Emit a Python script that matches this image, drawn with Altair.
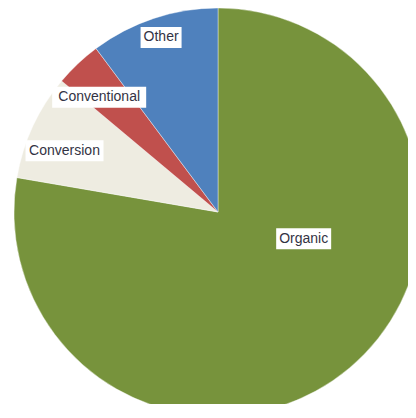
import altair as alt
import pandas as pd

# ---- data ----
categories = ["Organic", "Conversion", "Conventional", "Other"]
shares = [77.7, 8.4, 3.7, 10.2]

# ---- style ----
COLORS = ["#77933C", "#EEECE1", "#C0504D", "#4F81BD"]
# label placement relative to slice middle (angular nudge in degrees, radius fraction)
LABEL_NUDGE = {"Organic": -32.5, "Conversion": -3.1, "Conventional": -2.6, "Other": 0.3}
LABEL_RADIUS = {"Organic": 0.44, "Conversion": 0.81, "Conventional": 0.81, "Other": 0.9}
BOX_W = {"Organic": 55, "Conversion": 78, "Conventional": 94, "Other": 41}
BOX_H = 21
R = 204
CX, CY = 210, 204

df = pd.DataFrame({
    "category": categories,
    "share": shares,
    "idx": list(range(len(categories))),
    "nudge": [LABEL_NUDGE[c] for c in categories],
    "lr": [LABEL_RADIUS[c] for c in categories],
})

paths = []
for c in categories:
    w = BOX_W[c] / 2
    h = BOX_H / 2
    paths.append(f"M{-w},{-h}H{w}V{h}H{-w}Z")

base = alt.Chart(df)

pie = base.mark_arc(outerRadius=R, stroke="white", strokeWidth=0.4).encode(
    theta=alt.Theta("share:Q", stack=True),
    color=alt.Color("category:N", scale=alt.Scale(domain=categories, range=COLORS), legend=None),
    order=alt.Order("idx:Q"),
    x=alt.value(CX),
    y=alt.value(CY),
)

lab = base.transform_joinaggregate(total="sum(share)").transform_window(
    cum="sum(share)", sort=[alt.SortField("idx")], frame=[None, 0]
).transform_calculate(
    mid="(datum.cum - datum.share/2)/datum.total*2*PI + datum.nudge*PI/180"
).transform_calculate(
    lx="datum.lr*sin(datum.mid)", ly="datum.lr*cos(datum.mid)"
)

xenc = alt.X("lx:Q", scale=alt.Scale(domain=[-1, 1], range=[CX - R, CX + R]), axis=None)
yenc = alt.Y("ly:Q", scale=alt.Scale(domain=[-1, 1], range=[CY + R, CY - R]), axis=None)

boxes = lab.mark_point(filled=True, size=4, fill="white", opacity=1, strokeWidth=0).encode(
    x=xenc, y=yenc,
    shape=alt.Shape("category:N", scale=alt.Scale(domain=categories, range=paths), legend=None),
)

texts = lab.mark_text(font="Liberation Sans", fontSize=14, color="#333344", baseline="middle", align="center").encode(
    x=xenc, y=yenc, text="category:N"
)

chart = alt.layer(pie, boxes, texts).properties(
    width=400, height=396, padding=0, autosize="none"
).configure_view(stroke=None)

chart.save("out.html", embed_options={"renderer": "svg", "actions": False})
